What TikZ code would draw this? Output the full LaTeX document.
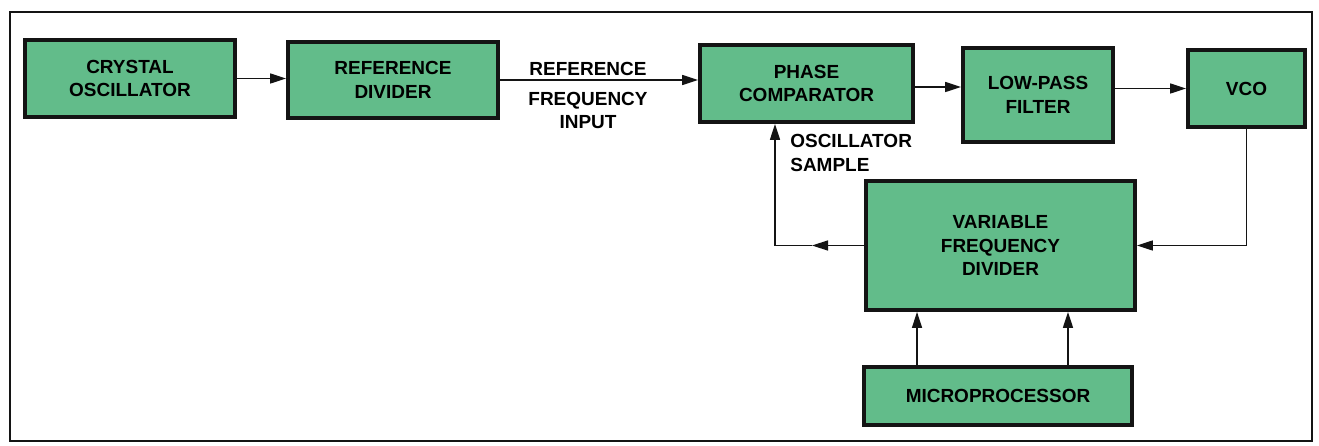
\documentclass[tikz,border=0pt]{standalone}
\usepackage{fontspec}
\setsansfont{Liberation Sans}
\usepackage{xcolor}
\usepackage{tikz}
\usetikzlibrary{
  arrows.meta,
  positioning,
  calc
}
\definecolor{BlockGreen}{RGB}{98,188,138}
\definecolor{InkBlack}{RGB}{20,20,20}
\tikzset{
  %%-- blocks -------------------------------------------------
  block/.style = {
    rectangle, draw = InkBlack, fill = BlockGreen,
    line width = 2.2pt, align = center, inner sep = 2pt,
    font = \sffamily\bfseries\fontsize{10.8}{13.6}\selectfont
  },
  %%-- free labels --------------------------------------------
  lbl/.style = {
    align = center, inner sep = 0pt,
    font = \sffamily\bfseries\fontsize{10.8}{13.6}\selectfont
  },
  %%-- connectors ---------------------------------------------
  arr/.style = {-{Triangle[length=0.32cm, width=0.2cm]}, line width = 0.85pt, color = InkBlack},
}
\begin{document}
\begin{tikzpicture}[x = 0.02cm, y = -0.02cm]

  \useasboundingbox (0,0) rectangle (1319,446);
  \draw[line width = 0.9pt, InkBlack] (10,12) rectangle (1312,441);

  %% top row
  \node[block, minimum width = 4.2cm, minimum height = 1.54cm] (xtal)
    at (130,78.5) {CRYSTAL\\OSCILLATOR};
  \node[block, minimum width = 4.2cm, minimum height = 1.52cm] (refdiv)
    at (393,80) {REFERENCE\\DIVIDER};
  \node[block, minimum width = 4.26cm, minimum height = 1.54cm] (phase)
    at (806.5,83.5) {PHASE\\COMPARATOR};
  \node[block, minimum width = 3.0cm, minimum height = 1.88cm] (lpf)
    at (1038,95) {LOW-PASS\\FILTER};
  \node[block, minimum width = 2.34cm, minimum height = 1.54cm] (vco)
    at (1246.5,88.5) {VCO};

  %% divider and processor
  \node[block, minimum width = 5.38cm, minimum height = 2.58cm] (vfd)
    at (1000.5,245.5) {VARIABLE\\FREQUENCY\\DIVIDER};
  \node[block, minimum width = 5.36cm, minimum height = 1.16cm] (micro)
    at (998,396) {MICROPROCESSOR};

  %% labels
  \node[lbl] (refin) at (588,68.5) {REFERENCE};
  \node[lbl] (freqin) at (588,110.5) {FREQUENCY\\INPUT};
  \node[lbl, anchor = west, align = left] (oscsmp) at (790,153) {OSCILLATOR\\SAMPLE};

  %% loop corner
  \coordinate (tapmid) at (812,245.5);
  \coordinate (tap) at (775,245.5);

  %% arrows
  \draw[arr] (xtal.east) -- (xtal.east -| refdiv.west);
  \draw[arr] (refdiv.east) -- (refdiv.east -| phase.west);
  \draw[arr] ([yshift=-0.07cm]phase.east) -- ([yshift=-0.07cm]phase.east -| lpf.west);
  \draw[arr] (vco.west -| lpf.east) -- (vco.west);
  \draw[arr] (vco.south) |- (vfd.east);
  \draw[arr] (vfd.west) -- (tapmid);
  \draw[arr] (tapmid) -- (tap) -- (tap |- phase.south);
  \draw[arr] ([xshift=-1.62cm]micro.north) -- ([xshift=-1.62cm]micro.north |- vfd.south);
  \draw[arr] ([xshift=1.4cm]micro.north) -- ([xshift=1.4cm]micro.north |- vfd.south);

\end{tikzpicture}
\end{document}
